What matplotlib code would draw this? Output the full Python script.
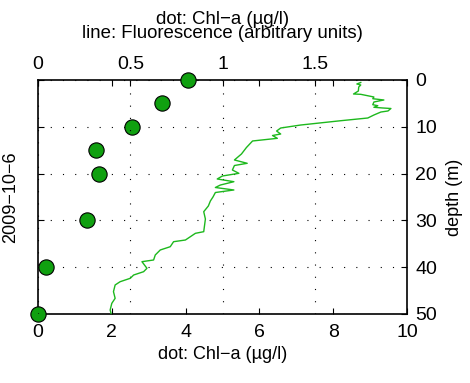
import matplotlib
matplotlib.use('Agg')
import matplotlib.pyplot as plt

plt.rcParams['font.family'] = ['Liberation Sans', 'DejaVu Sans']

# Chl-a bottle samples (dots), bottom axis
chl_depth = [0, 5, 10, 15, 20, 30, 40, 50]
chl = [4.07, 3.36, 2.55, 1.57, 1.65, 1.33, 0.22, 0.0]

# fluorescence profile (line), top axis
fl_depth = [0.53, 0.85, 1.07, 1.50, 2.35, 2.99, 3.06, 3.63, 4.00, 4.27, 4.70, 5.28,
            5.49, 5.83, 5.98, 6.09, 6.62, 6.84, 7.48, 8.12, 8.70, 9.62, 10.26, 10.90,
            11.54, 11.86, 12.46, 13.03, 14.42, 15.81, 17.09, 17.80, 18.27, 19.23,
            19.94, 20.51, 21.15, 21.73, 22.44, 22.97, 23.50, 24.04, 25.00, 25.85,
            26.92, 28.14, 29.70, 31.20, 32.41, 32.76, 34.19, 34.55, 35.62, 36.32,
            37.39, 38.46, 38.82, 40.23, 40.96, 41.67, 42.37, 43.10, 43.80, 45.23,
            46.65, 47.72, 49.15, 50.0]
fl = [1.745, 1.724, 1.745, 1.734, 1.732, 1.706, 1.745, 1.816, 1.810, 1.870, 1.816,
      1.810, 1.837, 1.816, 1.864, 1.908, 1.892, 1.854, 1.816, 1.783, 1.637, 1.420,
      1.312, 1.290, 1.312, 1.268, 1.294, 1.160, 1.127, 1.100, 1.062, 1.131, 1.062,
      1.051, 1.086, 0.997, 0.969, 1.059, 0.986, 0.959, 1.059, 0.959, 0.946, 0.932,
      0.921, 0.896, 0.905, 0.900, 0.896, 0.851, 0.797, 0.733, 0.715, 0.661, 0.634,
      0.625, 0.562, 0.589, 0.571, 0.517, 0.499, 0.444, 0.417, 0.408, 0.417, 0.399,
      0.390, 0.396]

fig = plt.figure(figsize=(4.7, 3.83), dpi=100)
ax = fig.add_axes([38/470, 1 - 314/383, 369/470, 234/383])
ax2 = ax.twiny()

ax.plot(chl, chl_depth, 'o', ms=11, mfc='#10a010', mec='black', mew=0.8,
        clip_on=False, zorder=5)
ax.set_xlim(0, 10)
ax.set_ylim(50, 0)
ax.set_xticks([0, 2, 4, 6, 8, 10])
ax.set_yticks([0, 10, 20, 30, 40, 50])
ax.yaxis.tick_right()
ax.yaxis.set_label_position('right')
ax.tick_params(axis='x', direction='in', length=4, width=0.8, top=True,
               labelsize=14, pad=7)
ax.tick_params(axis='y', direction='in', length=4, width=0.8, left=True,
               right=True, labelsize=14, pad=6)
ax.set_xlabel('dot: Chl\u2212a (\u00b5g/l)', fontsize=13, labelpad=4)
ax.set_ylabel('depth (m)', fontsize=13, labelpad=6)
ax.yaxis.grid(True, color='black', lw=0.8, ls=(0, (1, 10)))
for s in ax.spines.values():
    s.set_linewidth(1.2)

ax2.plot(fl, fl_depth, color='#1db81d', lw=1.0)
ax2.set_xlim(0, 1.995)
ax2.set_xticks([0, 0.5, 1, 1.5])
ax2.set_xticklabels(['0', '0.5', '1', '1.5'])
ax2.tick_params(axis='x', direction='in', length=4, width=0.8, labelsize=14, pad=5)
ax2.xaxis.grid(True, color='black', lw=0.8, ls=(0, (1, 10)))
for s in ax2.spines.values():
    s.set_visible(False)
ax2.set_xlabel('dot: Chl\u2212a (\u00b5g/l)\nline: Fluorescence (arbitrary units)',
               fontsize=13.4, linespacing=0.78, labelpad=13)

fig.text(11/470, 1 - 197/383, '2009\u221210\u22126', rotation=90, fontsize=13,
         ha='center', va='center')

fig.savefig('out.png', dpi=100)
